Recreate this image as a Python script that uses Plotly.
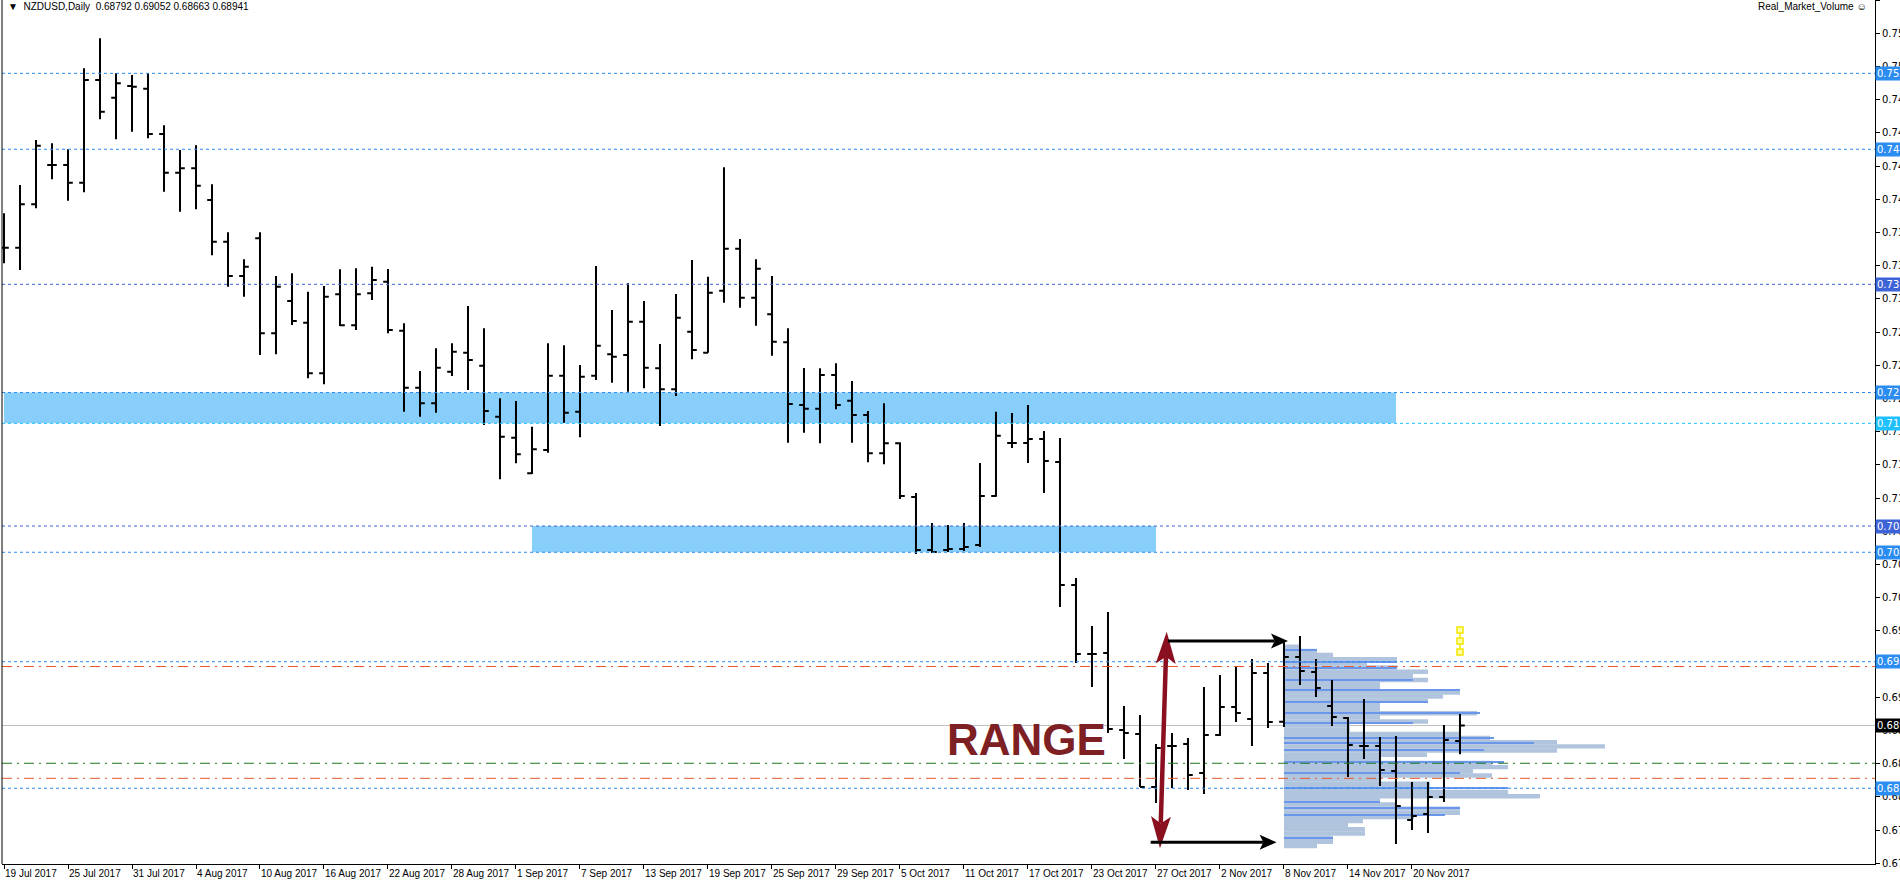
import math
import pandas as pd
import plotly.graph_objects as go

# ---------------- data ----------------
dates = pd.bdate_range("2017-07-19", "2017-11-23")

opens = [0.73547, 0.73547, 0.73966, 0.74344, 0.74344, 0.74174, 0.75164, 0.74993, 0.75106, 0.75080,
         0.74643, 0.74270, 0.74313, 0.74007, 0.73605, 0.73274, 0.73638, 0.72722, 0.73033, 0.72824,
         0.72336, 0.73098, 0.72799, 0.73108, 0.73219, 0.72747, 0.72198, 0.72047, 0.72352, 0.72535,
         0.72410, 0.71918, 0.71716, 0.71372, 0.71597, 0.72313, 0.71966, 0.72313, 0.72520, 0.72513,
         0.72834, 0.72385, 0.72182, 0.72737, 0.72535, 0.73133, 0.73538, 0.73065, 0.72905, 0.72635,
         0.72031, 0.71995, 0.72320, 0.72072, 0.71934, 0.71565, 0.71662, 0.71144, 0.70633, 0.70633,
         0.70643, 0.70681, 0.71154, 0.71665, 0.71665, 0.71703, 0.71481, 0.70296, 0.69630, 0.69640,
         0.68898, 0.68859, 0.68348, 0.68744, 0.68763, 0.68483, 0.68850, 0.69120, 0.69004, 0.69447,
         0.68978, 0.69602, 0.69457, 0.69129, 0.69014, 0.68744, 0.68744, 0.68502, 0.68030, 0.68088,
         0.68252, 0.68792]
highs = [0.73879, 0.74152, 0.74585, 0.74554, 0.74496, 0.75277, 0.75566, 0.75228, 0.75212, 0.75228,
         0.74727, 0.74489, 0.74534, 0.74158, 0.73696, 0.73435, 0.73696, 0.73274, 0.73300, 0.73123,
         0.73178, 0.73339, 0.73349, 0.73364, 0.73342, 0.72818, 0.72359, 0.72577, 0.72626, 0.72985,
         0.72770, 0.72095, 0.72069, 0.71822, 0.72626, 0.72606, 0.72416, 0.73371, 0.72947, 0.73204,
         0.73033, 0.72619, 0.73101, 0.73429, 0.73268, 0.74322, 0.73631, 0.73435, 0.73274, 0.72770,
         0.72387, 0.72385, 0.72433, 0.72262, 0.71973, 0.72047, 0.71671, 0.71183, 0.70893, 0.70874,
         0.70893, 0.71472, 0.71966, 0.71954, 0.72031, 0.71780, 0.71713, 0.70363, 0.69900, 0.70035,
         0.69129, 0.69042, 0.68763, 0.68869, 0.68821, 0.69312, 0.69428, 0.69505, 0.69582, 0.69544,
         0.69746, 0.69804, 0.69582, 0.69380, 0.69023, 0.69197, 0.68830, 0.68840, 0.68397, 0.68397,
         0.68946, 0.69052]
lows = [0.73397, 0.73332, 0.73927, 0.74207, 0.74000, 0.74081, 0.74785, 0.74592, 0.74665, 0.74602,
        0.74087, 0.73894, 0.73917, 0.73474, 0.73171, 0.73075, 0.72513, 0.72520, 0.72802, 0.72288,
        0.72230, 0.72792, 0.72754, 0.73043, 0.72722, 0.71966, 0.71918, 0.71957, 0.72310, 0.72175,
        0.71838, 0.71315, 0.71469, 0.71366, 0.71571, 0.71860, 0.71719, 0.72272, 0.72246, 0.72159,
        0.72192, 0.71828, 0.72118, 0.72471, 0.72535, 0.73017, 0.72969, 0.72795, 0.72506, 0.71667,
        0.71764, 0.71662, 0.71989, 0.71667, 0.71478, 0.71459, 0.71125, 0.70594, 0.70604, 0.70613,
        0.70623, 0.70662, 0.71147, 0.71616, 0.71472, 0.71183, 0.70084, 0.69544, 0.69312, 0.68869,
        0.68618, 0.68348, 0.68194, 0.68339, 0.68319, 0.68281, 0.68840, 0.68975, 0.68744, 0.68917,
        0.68927, 0.69332, 0.69216, 0.68936, 0.68445, 0.68618, 0.68358, 0.67799, 0.67934, 0.67905,
        0.68204, 0.68663]
closes = [0.73547, 0.73966, 0.74531, 0.74344, 0.74174, 0.75164, 0.74858, 0.75132, 0.75099, 0.74643,
          0.74270, 0.74313, 0.74145, 0.73605, 0.73274, 0.73364, 0.72722, 0.73171, 0.72841, 0.72336,
          0.73075, 0.72799, 0.73098, 0.73236, 0.72754, 0.72198, 0.72047, 0.72390, 0.72545, 0.72465,
          0.71973, 0.71725, 0.71556, 0.71604, 0.72313, 0.71957, 0.72304, 0.72603, 0.72496, 0.72834,
          0.72390, 0.72182, 0.72872, 0.72561, 0.73113, 0.73538, 0.73065, 0.73345, 0.72641, 0.72040,
          0.71995, 0.72320, 0.72031, 0.71934, 0.71565, 0.71662, 0.71154, 0.70633, 0.70613, 0.70643,
          0.70662, 0.71154, 0.71735, 0.71665, 0.71703, 0.71491, 0.70296, 0.69630, 0.69630, 0.68907,
          0.68869, 0.68348, 0.68724, 0.68744, 0.68464, 0.68850, 0.69120, 0.69062, 0.69447, 0.68975,
          0.69602, 0.69467, 0.69303, 0.69023, 0.68753, 0.68744, 0.68512, 0.68165, 0.68069, 0.68252,
          0.68801, 0.68941]

price_ticks = [0.67613, 0.67933, 0.68253, 0.68573, 0.68893, 0.69213, 0.69533, 0.69853, 0.70173,
               0.70493, 0.70813, 0.71133, 0.71453, 0.71773, 0.72093, 0.72413, 0.72733, 0.73053,
               0.73373, 0.73693, 0.74013, 0.74333, 0.74653, 0.74973, 0.75293, 0.75613, 0.75933]

# volume profile (price level -> relative volume)
profile_levels = [0.6778, 0.6782, 0.6786, 0.6790, 0.6794, 0.6798, 0.6802, 0.6806, 0.6810, 0.6814,
                  0.6818, 0.6822, 0.6826, 0.6830, 0.6834, 0.6838, 0.6842, 0.6846, 0.6850, 0.6854,
                  0.6858, 0.6862, 0.6866, 0.6870, 0.6874, 0.6878, 0.6882, 0.6886, 0.6890, 0.6894,
                  0.6898, 0.6902, 0.6906, 0.6910, 0.6914, 0.6918, 0.6922, 0.6926, 0.6930, 0.6934,
                  0.6938, 0.6942, 0.6946, 0.6950, 0.6954, 0.6958, 0.6962, 0.6966, 0.6970]
profile_volume = [33, 49, 49, 81, 81, 64, 79, 130, 176, 176,
                  113, 96, 256, 224, 146, 146, 96, 208, 189, 224,
                  208, 96, 143, 273, 321, 273, 206, 176, 66, 66,
                  144, 96, 193, 96, 96, 144, 159, 176, 96, 96,
                  144, 129, 144, 113, 83, 113, 49, 33, 16]
profile_hi_levels = [0.69669, 0.69556, 0.69493, 0.69380, 0.69283, 0.69171, 0.69059, 0.68962, 0.68818,
                     0.68770, 0.68705, 0.68592, 0.68480, 0.68336, 0.68207, 0.68143, 0.68079, 0.67854]
profile_hi_volume = [33, 113, 113, 129, 176, 144, 196, 129, 210, 250, 200, 220, 176, 224, 96, 176, 161, 49]
signal_prices = [0.69862, 0.69756, 0.69650]

level_prices = [0.75228, 0.74496, 0.73194, 0.72151, 0.71854, 0.70864, 0.70611, 0.69556, 0.68336]
level_colors = ["#2B8CF2", "#2B8CF2", "#3D63D6", "#2B8CF2", "#1EC0FF", "#3D63D6", "#2B8CF2", "#2B8CF2", "#2B8CF2"]
red_levels = [0.69510, 0.68432]
green_levels = [0.68577]
last_price = 0.68941

zones = [("2017-07-19", "2017-11-17", 0.71854, 0.72151),
         ("2017-09-04", "2017-10-27", 0.70611, 0.70864)]

header = "NZDUSD,Daily  0.68792 0.69052 0.68663 0.68941"

# ---------------- layout geometry ----------------
W, H = 1900, 885
ML, MR, MT, MB = 2, 25, 0, 21
x_range = [-0.125, 116.94]
y_range = [0.67606, 0.75935]
sx = (W - ML - MR) / (x_range[1] - x_range[0])
sy = (H - MT - MB) / (y_range[1] - y_range[0])

idx = list(range(len(dates)))
pos = {d.strftime("%Y-%m-%d"): i for i, d in enumerate(dates)}
tick_idx = idx[::4]
tick_txt = [dates[i].strftime("%-d %b %Y") for i in tick_idx]
profile_base = pos["2017-11-08"]
bars_per_volume = 1.0 / 16.0

fig = go.Figure()

fig.add_trace(go.Bar(orientation="h", y=profile_levels,
                     x=[v * bars_per_volume for v in profile_volume],
                     base=profile_base, width=0.00043,
                     marker=dict(color="#B0C4DE", line=dict(width=0)),
                     hoverinfo="skip", showlegend=False))
fig.add_trace(go.Bar(orientation="h", y=profile_hi_levels,
                     x=[v * bars_per_volume for v in profile_hi_volume],
                     base=profile_base, width=0.0001,
                     marker=dict(color="#6A97EC", line=dict(width=0)),
                     hoverinfo="skip", showlegend=False))

fig.add_trace(go.Ohlc(x=idx, open=opens, high=highs, low=lows, close=closes,
                      increasing=dict(line=dict(color="black", width=2)),
                      decreasing=dict(line=dict(color="black", width=2)),
                      tickwidth=0.3, hoverinfo="skip", showlegend=False))

fig.add_trace(go.Scatter(x=[idx[-1]] * len(signal_prices), y=signal_prices,
                         mode="lines+markers",
                         line=dict(color="#F2E600", width=1.5),
                         marker=dict(symbol="square", size=6, color="#FFFFA8",
                                     line=dict(color="#F2E600", width=1.5)),
                         hoverinfo="skip", showlegend=False))

shapes = []
for d0, d1, lo, hi in zones:
    shapes.append(dict(type="rect", xref="x", yref="y", x0=pos[d0], x1=pos[d1], y0=lo, y1=hi,
                       fillcolor="#87CEFA", line=dict(width=0), layer="below"))
for p, c in zip(level_prices, level_colors):
    shapes.append(dict(type="line", xref="paper", yref="y", x0=0, x1=1, y0=p, y1=p,
                       line=dict(color=c, width=1, dash="3px,3px"), layer="above"))
for p in red_levels:
    shapes.append(dict(type="line", xref="paper", yref="y", x0=0, x1=1, y0=p, y1=p,
                       line=dict(color="#E8582A", width=1, dash="10px,5px,2px,5px"), layer="above"))
for p in green_levels:
    shapes.append(dict(type="line", xref="paper", yref="y", x0=0, x1=1, y0=p, y1=p,
                       line=dict(color="#1E7A1E", width=1, dash="10px,5px,2px,5px"), layer="above"))
shapes.append(dict(type="line", xref="paper", yref="y", x0=0, x1=1, y0=last_price, y1=last_price,
                   line=dict(color="#C0C0C0", width=1), layer="below"))
shapes.append(dict(type="line", xref="paper", yref="paper", x0=0, x1=0, y0=0, y1=1,
                   line=dict(color="black", width=1)))


def head(tip, back, length, half, color):
    tx, ty = tip[0] * sx, tip[1] * sy
    bx, by = back[0] * sx, back[1] * sy
    dx, dy = tx - bx, ty - by
    n = math.hypot(dx, dy)
    ux, uy = dx / n, dy / n
    px, py = -uy, ux
    cx, cy = tx - ux * length, ty - uy * length
    lx, ly = cx + px * half, cy + py * half
    rx, ry = cx - px * half, cy - py * half
    nx, ny = tx - ux * length * 0.78, ty - uy * length * 0.78
    path = (f"M{tx/sx},{ty/sy} L{lx/sx},{ly/sy} L{nx/sx},{ny/sy} "
            f"L{rx/sx},{ry/sy} Z")
    shapes.append(dict(type="path", xref="x", yref="y", path=path,
                       fillcolor=color, line=dict(width=0), layer="above"))
    return (nx / sx, ny / sy)


def arrow(start, end, color, width, length, half, both=False):
    e = head(end, start, length, half, color)
    s = head(start, end, length, half, color) if both else start
    shapes.append(dict(type="line", xref="x", yref="y", x0=s[0], y0=s[1], x1=e[0], y1=e[1],
                       line=dict(color=color, width=width), layer="above"))


range_top = (72.67, 0.69845)
range_bottom = (72.25, 0.67757)
arrow(range_bottom, range_top, "#8A0F1F", 4.5, 32, 10, both=True)
arrow((72.75, 0.69756), (80.25, 0.69756), "black", 3, 17, 7.5)
arrow((71.67, 0.67815), (79.54, 0.67815), "black", 3, 17, 7.5)

small = dict(family="Liberation Sans, Arial, sans-serif", size=10, color="black")
annotations = []
for p, c in zip(level_prices, level_colors):
    annotations.append(dict(x=1, xref="paper", y=p, yref="y", xanchor="left", yanchor="middle",
                            text=f"{p:.5f}", showarrow=False, bgcolor=c, borderpad=1,
                            font=dict(family="DejaVu Sans, sans-serif", size=10, color="white")))
annotations.append(dict(x=1, xref="paper", y=last_price, yref="y", xanchor="left", yanchor="middle",
                        text=f"{last_price:.5f}", showarrow=False, bgcolor="black", borderpad=1,
                        font=dict(family="DejaVu Sans, sans-serif", size=10, color="white")))
annotations.append(dict(x=0, xref="paper", y=1, yref="paper", xanchor="left", yanchor="top",
                        xshift=4, yshift=1, text="▼  " + header, showarrow=False, font=small))
annotations.append(dict(x=1, xref="paper", y=1, yref="paper", xanchor="right", yanchor="top",
                        xshift=-6, yshift=1, text="Real_Market_Volume ☺", showarrow=False, font=small))
annotations.append(dict(x=63.9, xref="x", y=0.68811, yref="y", xanchor="center", yanchor="middle",
                        text="RANGE", showarrow=False,
                        font=dict(family="Liberation Sans, Arial, sans-serif", size=44,
                                  color="#7E1F24", weight="bold")))

fig.update_layout(
    template="none",
    width=W, height=H,
    margin=dict(l=ML, r=MR, t=MT, b=MB, pad=0),
    paper_bgcolor="white", plot_bgcolor="white",
    barmode="overlay", showlegend=False,
    shapes=shapes, annotations=annotations,
    xaxis=dict(range=x_range, tickvals=tick_idx, ticktext=tick_txt, showgrid=False, zeroline=False,
               showline=True, linecolor="black", linewidth=1, ticks="outside", ticklen=4,
               tickcolor="black", ticklabelposition="outside right", tickangle=0, automargin=False,
               tickfont=small, rangeslider=dict(visible=False), fixedrange=True),
    yaxis=dict(range=y_range, side="right", tickvals=price_ticks,
               ticktext=[f"{t:.5f}" for t in price_ticks], showgrid=False, zeroline=False,
               showline=True, linecolor="black", linewidth=1, ticks="outside", ticklen=4,
               tickcolor="black", automargin=False,
               tickfont=dict(family="DejaVu Sans, sans-serif", size=10, color="black")),
)

fig.write_html("out.html", config={"displayModeBar": False},
               post_script="document.body.style.margin='0';document.body.style.overflow='hidden';")
